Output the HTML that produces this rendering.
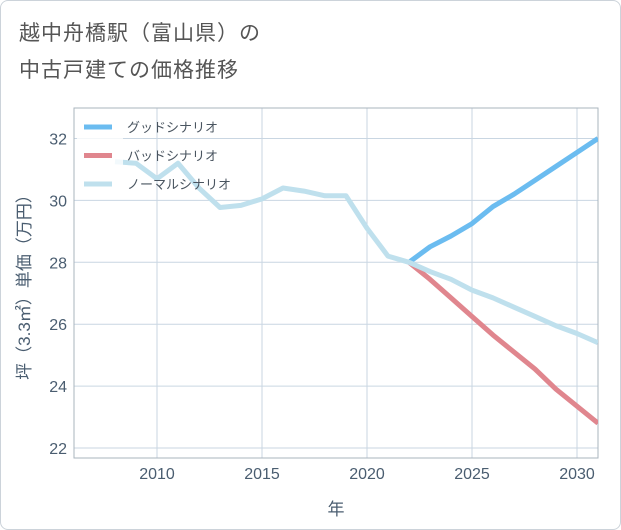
<!DOCTYPE html>
<html><head><meta charset="utf-8"><style>
body{margin:0;background:#fff;}
#wrap{position:relative;width:621px;height:530px;box-sizing:border-box;border:1px solid #ccd3da;border-radius:8px;overflow:hidden;font-family:"Liberation Sans","Noto Sans CJK JP",sans-serif;}
.t{position:absolute;left:18px;font-size:21px;color:#555;letter-spacing:1px;}
</style></head><body>
<div id="wrap">
<div class="t" style="top:16px">越中舟橋駅（富山県）の</div>
<div class="t" style="top:53px">中古戸建ての価格推移</div>
<svg id="chart" width="621" height="530" style="position:absolute;left:0;top:0"></svg>
</div>
<script>
const years=[2008,2009,2010,2011,2012,2013,2014,2015,2016,2017,2018,2019,2020,2021,2022,2023,2024,2025,2026,2027,2028,2029,2030,2031];
const normalValues=[31.25,31.2,30.7,31.2,30.4,29.77,29.84,30.05,30.4,30.3,30.15,30.15,29.1,28.2,28.0,27.7,27.45,27.1,26.85,26.55,26.25,25.95,25.7,25.4];
const forecastYears=[2022,2023,2024,2025,2026,2027,2028,2029,2030,2031];
const goodValues=[28.0,28.5,28.85,29.25,29.8,30.2,30.65,31.1,31.55,32.0];
const badValues=[28.0,27.45,26.85,26.25,25.65,25.1,24.55,23.9,23.35,22.8];
const xTicks=[2010,2015,2020,2025,2030];
const yTicks=[22,24,26,28,30,32];
const legendLabels=["グッドシナリオ","バッドシナリオ","ノーマルシナリオ"];

const NS="http://www.w3.org/2000/svg";
const svg=document.getElementById('chart');
const L=73,R=597,T=107,B=457;
const X=y=>156+(y-2010)*21.0;
const Y=v=>447-(v-22)*30.95;
function mk(tag,attrs,parent){const e=document.createElementNS(NS,tag);for(const k in attrs)e.setAttribute(k,attrs[k]);(parent||svg).appendChild(e);return e;}
const clip=mk('clipPath',{id:'pc'});mk('rect',{x:L,y:T,width:R-L,height:B-T},clip);
xTicks.forEach(t=>{
 const g=mk('line',{x1:X(t),x2:X(t),y1:T,y2:B,stroke:'#c9d6e2','stroke-width':1});
 
 
 const tx=mk('text',{x:X(t),y:478,'text-anchor':'middle','font-size':16,fill:'#4a5d70'});
 tx.textContent=t;
 
 
});
yTicks.forEach(t=>{
 const g=mk('line',{x1:L,x2:R,y1:Y(t),y2:Y(t),stroke:'#c9d6e2','stroke-width':1});
 
 
 const tx=mk('text',{x:66,y:Y(t)+6,'text-anchor':'end','font-size':16,fill:'#4a5d70'});
 tx.textContent=t;
 
 
});
const fr=mk('rect',{x:L,y:T,width:R-L,height:B-T,fill:'none',stroke:'#aab4be','stroke-width':1});


function line(xs,vs,color,name){
 const p=mk('polyline',{points:xs.map((x,i)=>X(x)+','+Y(vs[i])).join(' '),fill:'none',stroke:color,'stroke-width':5,'stroke-linejoin':'round','clip-path':'url(#pc)'});
 
 
}
line(forecastYears,badValues,'#e0868e','bad-scenario-line');
line(forecastYears,goodValues,'#6bbcf0','good-scenario-line');
line(years,normalValues,'#bfe0ed','normal-scenario-line');
// legend
const lg=mk('rect',{x:76,y:112,width:46,height:86,fill:'#fff','fill-opacity':0.8});


const lc=['#6bbcf0','#e0868e','#bfe0ed'];
legendLabels.forEach((s,i)=>{
 const yy=126+i*28.5;
 const sw=mk('line',{x1:83,x2:111,y1:yy,y2:yy,stroke:lc[i],'stroke-width':5});
 
 
 const tx=mk('text',{x:126,y:yy+5,'font-size':13,fill:'#4a5560'});
 tx.textContent=s;
 
 
});
const xt=mk('text',{x:335,y:514,'text-anchor':'middle','font-size':17,fill:'#4a5d70'});
xt.textContent='年';


const yt=mk('text',{x:0,y:0,'text-anchor':'middle','font-size':17,fill:'#4a5d70',transform:'translate(29,282) rotate(-90)'});
yt.textContent='坪（3.3㎡）単価（万円）';


</script>
</body></html>
